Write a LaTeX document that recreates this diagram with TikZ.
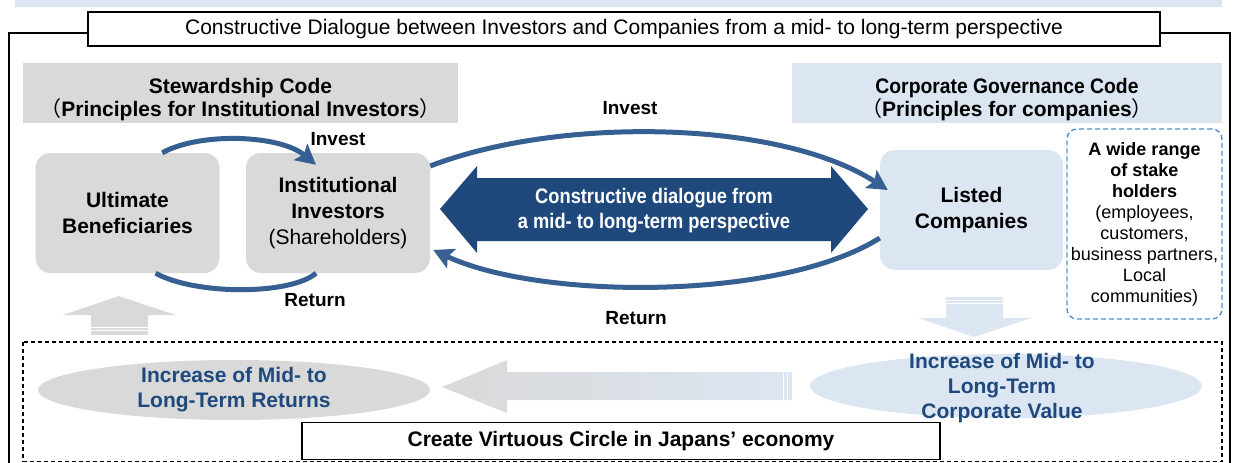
\documentclass[tikz,border=0pt]{standalone}
\usepackage{fontspec}
\setmainfont{Liberation Sans}
\newfontfamily\narrowfont[FakeStretch=0.87]{Liberation Sans}
\newfontfamily\cgcfont[FakeStretch=0.92]{Liberation Sans}
\newfontfamily\cjk{Noto Sans CJK JP}
\usetikzlibrary{arrows.meta,calc,shapes.geometric}
\definecolor{grayfill}{HTML}{D9D9D9}
\definecolor{paleblue}{HTML}{DCE6F2}
\definecolor{loopblue}{HTML}{376092}
\definecolor{navy}{HTML}{1F497D}
\definecolor{dashblue}{HTML}{558ED5}
\newcommand{\lpar}{{\cjk\mdseries （}}
\newcommand{\rpar}{{\cjk\mdseries ）}}
\tikzset{
  actor/.style={rounded corners=15pt,minimum width=184pt,minimum height=120pt,inner sep=0pt,
    align=center,font=\bfseries\fontsize{21}{26}\selectfont},
  code/.style={minimum height=60pt,inner sep=0pt},
  codetext/.style={align=center,font=\bfseries\fontsize{21}{23.5}\selectfont},
  loop/.style={draw=loopblue,line width=5pt,-{Stealth[length=20pt,width=21pt,inset=4pt]}},
  tag/.style={font=\bfseries\fontsize{19}{22}\selectfont},
  goal/.style={ellipse,minimum width=392pt,minimum height=60pt,inner sep=0pt},
  goaltext/.style={align=center,text=navy,font=\bfseries\fontsize{21}{25}\selectfont},
}
\begin{document}
\begin{tikzpicture}[x=1pt,y=-1pt]
  \useasboundingbox (0,0) rectangle (1235,463);
  \fill[paleblue] (15,0) rectangle (1222,7);
  \draw[line width=1.6pt] (9,463) -- (9,33) -- (1230,33) -- (1230,463);
  \node[draw,line width=1.6pt,fill=white,minimum width=1072pt,minimum height=34pt,inner sep=0pt,
    font=\fontsize{21}{24}\selectfont] (title) at (624,29)
    {Constructive Dialogue between Investors and Companies from a mid- to long-term perspective};

  \node[code,fill=grayfill,minimum width=435pt] (sc) at (240.5,93) {};
  \node[codetext] (sctext) at (240.5,99.5)
    {Stewardship Code\\\lpar Principles for Institutional Investors\rpar};
  \node[code,fill=paleblue,minimum width=430pt] (cgc) at (1007,93) {};
  \node[codetext] (cgctext) at (1007,99.5)
    {{\cgcfont\bfseries Corporate Governance Code}\\\lpar Principles for companies\rpar};

  \node[actor,fill=grayfill] (ult) at (127.5,213) {Ultimate\\Beneficiaries};
  \node[actor,fill=grayfill] (inst) at (338,213) {Institutional\\Investors\\{\mdseries(Shareholders)}};
  \node[actor,fill=paleblue,minimum width=183pt] (listed) at (971.5,210) {Listed\\Companies};
  \node[draw=dashblue,line width=1.4pt,dash pattern=on 5pt off 3pt,rounded corners=10pt,
    minimum width=155pt,minimum height=190pt,inner sep=0pt,align=center,
    font=\fontsize{18}{21}\selectfont] (stake) at (1144.5,224)
    {\textbf{A wide range}\\\textbf{of stake}\\\textbf{holders}\\(employees,\\customers,\\business partners,\\Local\\communities)};

  \fill[navy] (440,209) -- (477,166) -- (477,178) -- (831,178) -- (831,166) -- (868,209)
    -- (831,253) -- (831,241) -- (477,241) -- (477,253) -- cycle;
  \node[text=white,align=center,font=\narrowfont\bfseries\fontsize{21}{25}\selectfont] (dlg) at (654,211)
    {Constructive dialogue from\\a mid- to long-term perspective};

  \draw[loop] (inst.27) .. controls +(130,-50) and +(-108,-70) .. ($(listed.west)+(8,-20)$);
  \draw[loop] (listed.197) .. controls +(-100,63) and +(107,50) .. ($(inst.east)+(3,37)$);
  \draw[loop] (ult.60) .. controls +(38,-21) and +(-36,-30) .. ($(inst.north)+(-22,12)$);
  \draw[loop,-] (inst.250) .. controls +(-26,22) and +(40,22) .. (ult.295);

  \node[tag] (inv1) at (630,108) {Invest};
  \node[tag] (inv2) at (338,139) {Invest};
  \node[tag] (ret1) at (315,300) {Return};
  \node[tag] (ret2) at (636,318) {Return};

  \fill[grayfill] (119,296) -- (176,315) -- (148,315) -- (148,335) -- (91,335) -- (91,315) -- (63,315) -- cycle;
  \draw[white,line width=1pt] (91,327) -- (148,327) (91,330.5) -- (148,330.5);
  \fill[paleblue] (946,297) -- (1003,297) -- (1003,318) -- (1031,318) -- (974,337) -- (918,318) -- (946,318) -- cycle;
  \draw[white,line width=1pt] (946,300) -- (1003,300) (946,303.5) -- (1003,303.5);

  \draw[line width=1.1pt,dash pattern=on 4pt off 3pt] (23,342) rectangle (1222,461.5);

  \node[goal,fill=grayfill] (retbg) at (234,390) {};
  \node[goaltext] (ret) at (234,390) {Increase of Mid- to\\Long-Term Returns};
  \node[goal,fill=paleblue,minimum height=64pt] (valbg) at (1006,386) {};
  \node[goaltext] (val) at (1002,388) {Increase of Mid- to\\Long-Term\\Corporate Value};

  \shade[left color=grayfill,right color=paleblue] (442,387) -- (507,360) -- (507,372) -- (792,372)
    -- (792,400) -- (507,400) -- (507,413) -- cycle;
  \draw[white,line width=1pt] (783,372) -- (783,400) (787,372) -- (787,400);

  \node[draw,fill=white,line width=1.1pt,minimum width=638pt,minimum height=37pt,inner sep=0pt,
    font=\bfseries\fontsize{21}{25}\selectfont] (circ) at (621,441) {Create Virtuous Circle in Japans’ economy};
\end{tikzpicture}
\end{document}
